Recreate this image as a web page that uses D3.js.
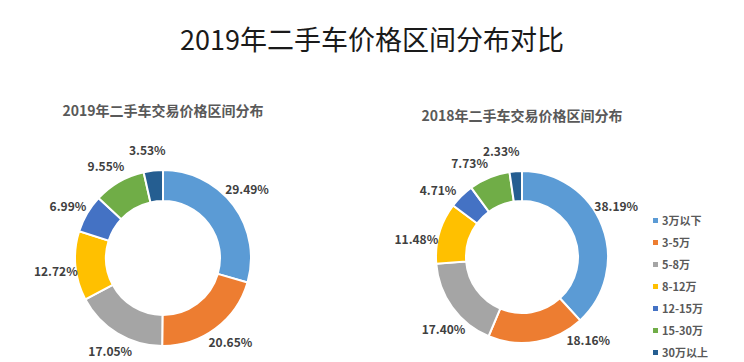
<!DOCTYPE html>
<html>
<head>
<meta charset="utf-8">
<script src="https://cdn.jsdelivr.net/npm/d3@7"></script>
<style>
  body { margin: 0; background: #fff; }
  svg { font-family: "Noto Sans CJK SC", "Noto Sans", sans-serif; }
</style>
</head>
<body>
<div id="chart"></div>
<script>
// price ranges and shares (%)
const categories = ["3万以下", "3-5万", "5-8万", "8-12万", "12-15万", "15-30万", "30万以上"];
const values2019 = [29.49, 20.65, 17.05, 12.72, 6.99, 9.55, 3.53];
const values2018 = [38.19, 18.16, 17.40, 11.48, 4.71, 7.73, 2.33];
const mainTitle = "2019年二手车价格区间分布对比";
const title2019 = "2019年二手车交易价格区间分布";
const title2018 = "2018年二手车交易价格区间分布";

const colors = ["#5B9BD5", "#ED7D31", "#A5A5A5", "#FFC000", "#4472C4", "#70AD47", "#255E91"];

const width = 744, height = 362;

const svg = d3.select("#chart").append("svg")
    .attr("width", width)
    .attr("height", height);

svg.append("rect").attr("width", width).attr("height", height).attr("fill", "#fff");

// main title
svg.append("text")
    .attr("x", 372)
    .attr("y", 50)
    .attr("text-anchor", "middle")
    .attr("font-size", 27)
    .attr("fill", "#1a1a1a")
    .text(mainTitle);

const color = d3.scaleOrdinal().domain(categories).range(colors);

// opts: center, radii, label radius, label angle shift (deg), lowest label y
function donut(values, title, o) {
    const g = svg.append("g").attr("transform", `translate(${o.cx},${o.cy})`);

    svg.append("text")
        .attr("x", o.cx)
        .attr("y", o.titleY)
        .attr("text-anchor", "middle")
        .attr("font-size", 14)
        .attr("font-weight", "bold")
        .attr("fill", "#595959")
        .text(title);

    const pie = d3.pie().sort(null).value(d => d.v);
    const arcs = pie(values.map((v, i) => ({ v: v, c: categories[i] })));

    const arc = d3.arc().innerRadius(o.inner).outerRadius(o.outer);

    g.selectAll("path")
        .data(arcs)
        .enter().append("path")
        .attr("d", arc)
        .attr("fill", d => color(d.data.c))
        .attr("stroke", "#fff")
        .attr("stroke-width", 2);

    // label position: mid angle, pushed round the ring if it falls too low
    function labelPos(d) {
        let a = (d.startAngle + d.endAngle) / 2 + o.shift * Math.PI / 180;
        const r = o.labelR;
        const maxDy = o.maxY - o.cy;
        if (-Math.cos(a) * r > maxDy) {
            const lim = Math.acos(-maxDy / r);
            a = a < Math.PI ? lim : 2 * Math.PI - lim;
        }
        return [Math.sin(a) * r, -Math.cos(a) * r];
    }

    g.selectAll(".lbl")
        .data(arcs)
        .enter().append("text")
        .attr("class", "lbl")
        .attr("transform", d => `translate(${labelPos(d)})`)
        .attr("text-anchor", "middle")
        .attr("dy", "0.35em")
        .attr("font-size", 12)
        .attr("font-weight", "bold")
        .attr("fill", "#404040")
        .text(d => d.data.v.toFixed(2) + "%");
}

donut(values2019, title2019, { cx: 163, cy: 258, outer: 88, inner: 57, labelR: 108, shift: -2, maxY: 354, titleY: 116 });
donut(values2018, title2018, { cx: 522, cy: 257, outer: 86, inner: 56, labelR: 107, shift: -7, maxY: 341, titleY: 121 });

// legend
const legend = svg.append("g").attr("transform", "translate(653,221)");
const legendY = d3.scalePoint().domain(categories).range([0, 132]);

const item = legend.selectAll("g")
    .data(categories)
    .enter().append("g")
    .attr("transform", d => `translate(0,${legendY(d)})`);

item.append("rect")
    .attr("x", 0)
    .attr("y", -3)
    .attr("width", 5)
    .attr("height", 5)
    .attr("fill", d => color(d));

item.append("text")
    .attr("x", 9)
    .attr("dy", "0.35em")
    .attr("font-size", 11)
    .attr("font-weight", "bold")
    .attr("fill", "#595959")
    .text(d => d);
</script>
</body>
</html>
